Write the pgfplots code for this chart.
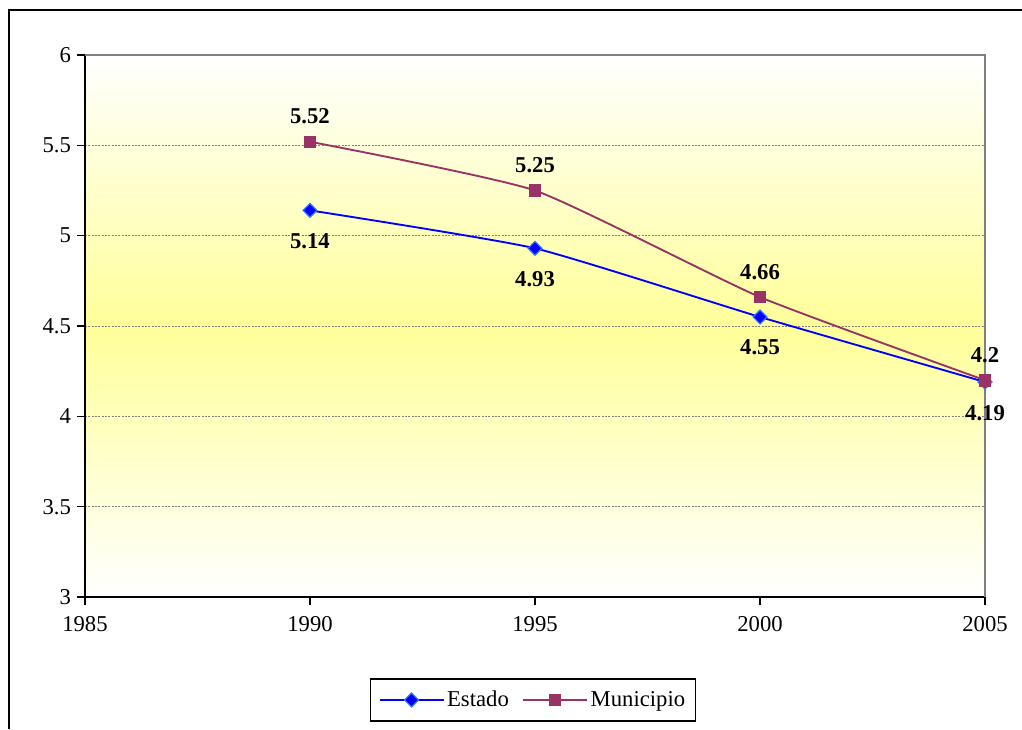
\documentclass[border=0pt]{standalone}
\usepackage{fontspec}
\setmainfont{Liberation Serif}
\usepackage{pgfplots}
\pgfplotsset{compat=1.18}
\definecolor{muni}{RGB}{153,51,102}
\definecolor{est}{RGB}{0,0,255}
\definecolor{estedge}{RGB}{51,120,255}
\definecolor{bgyel}{RGB}{255,255,153}
\definecolor{gridgray}{RGB}{128,128,128}
\newcommand{\lblfont}{\fontsize{17}{20}\selectfont}
\pgfdeclareplotmark{wdiamond*}{%
  \pgfpathmoveto{\pgfqpoint{0pt}{\pgfplotmarksize}}%
  \pgfpathlineto{\pgfqpoint{\pgfplotmarksize}{0pt}}%
  \pgfpathlineto{\pgfqpoint{0pt}{-\pgfplotmarksize}}%
  \pgfpathlineto{\pgfqpoint{-\pgfplotmarksize}{0pt}}%
  \pgfpathclose\pgfusepathqfillstroke}
\begin{document}
\begin{tikzpicture}
\useasboundingbox (-63.75pt,-99pt) rectangle (702.75pt,447.75pt);
\draw[line width=1.5pt] (-57pt,-99pt) -- (-57pt,440.25pt) -- (702.75pt,440.25pt);
\begin{axis}[
  at={(0pt,0pt)}, anchor=south west,
  width=675pt, height=406.5pt, scale only axis,
  xmin=1985, xmax=2005, ymin=3, ymax=6,
  xtick={1985,1990,1995,2000,2005},
  ytick={3,3.5,4,4.5,5,5.5,6},
  axis x line*=bottom, axis y line*=left,
  axis line style={-, black, line width=1.5pt},
  tick align=outside, major tick length=6pt,
  tick style={black, line width=1.2pt},
  xtick pos=bottom, ytick pos=left,
  /pgf/number format/1000 sep={},
  /pgf/number format/assume math mode=true,
  ticklabel style={font=\lblfont},
  xticklabel style={yshift=-5pt},
  yticklabel style={xshift=-1pt},
  ymajorgrids,
  major grid style={gridgray, dash pattern=on 1.5pt off 1pt, line width=0.6pt},
  axis background/.style={shade, top color=white, bottom color=white, middle color=bgyel},
  clip=false,
  legend columns=2,
  legend style={at={(axis description cs:0.498,-0.19)}, anchor=center,
    draw=black, line width=1pt, font=\lblfont, inner xsep=6pt, inner ysep=7pt,
    /tikz/every even column/.append style={column sep=8pt}},
  legend image code/.code={\draw[mark repeat=2,mark phase=2,#1] plot coordinates {(0pt,0pt) (24pt,0pt) (48pt,0pt)};},
]
\draw[gridgray, line width=1pt] (rel axis cs:0,1) -- (rel axis cs:1,1) -- (rel axis cs:1,0);
\addplot[color=est, line width=1.4pt, smooth, tension=0.3, mark=wdiamond*, mark size=5.2pt,
  mark options={fill=est, draw=estedge, line width=0.9pt, solid},
  nodes near coords, point meta=explicit symbolic,
  every node near coord/.append style={font=\lblfont\bfseries, black, anchor=center, yshift=-23pt}]
  coordinates {(1990,5.14)[5.14] (1995,4.93)[4.93] (2000,4.55)[4.55] (2005,4.19)[4.19]};
\addlegendentry{Estado}
\addplot[color=muni, line width=1.4pt, smooth, tension=0.3, mark=square*, mark size=4.3pt,
  mark options={fill=muni, draw=muni, line width=0.6pt, solid},
  nodes near coords, point meta=explicit symbolic,
  every node near coord/.append style={font=\lblfont\bfseries, black, anchor=center, yshift=19pt}]
  coordinates {(1990,5.52)[5.52] (1995,5.25)[5.25] (2000,4.66)[4.66] (2005,4.2)[4.2]};
\addlegendentry{Municipio}
\end{axis}
\end{tikzpicture}
\end{document}
